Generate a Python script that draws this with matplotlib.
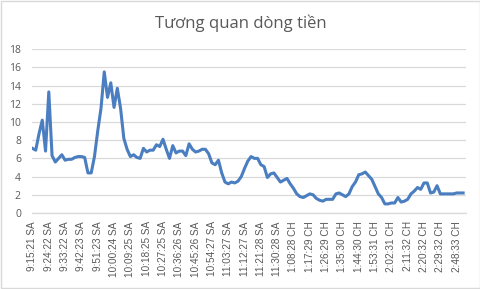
import numpy as np
import matplotlib.pyplot as plt
from matplotlib.patches import Rectangle

# tick labels every 5 samples
time_labels = ['9:15:21 SA', '9:24:22 SA', '9:33:22 SA', '9:42:23 SA', '9:51:23 SA',
               '10:00:24 SA', '10:09:25 SA', '10:18:25 SA', '10:27:25 SA', '10:36:26 SA',
               '10:45:26 SA', '10:54:27 SA', '11:03:27 SA', '11:12:27 SA', '11:21:28 SA',
               '11:30:28 SA', '1:08:28 CH', '1:17:29 CH', '1:26:29 CH', '1:35:30 CH',
               '1:44:30 CH', '1:53:31 CH', '2:02:31 CH', '2:11:32 CH', '2:20:32 CH',
               '2:29:32 CH', '2:48:33 CH']
label_step = 5

cash_flow = [7.1, 6.9, 8.7, 10.2, 6.8, 13.3, 6.3, 5.6, 6.0, 6.4,
             5.8, 5.9, 5.9, 6.1, 6.2, 6.2, 6.1, 4.4, 4.4, 6.2,
             9.0, 11.5, 15.5, 12.7, 14.3, 11.6, 13.7, 11.5, 8.2, 7.0,
             6.2, 6.4, 6.1, 6.0, 7.1, 6.7, 6.9, 6.9, 7.5, 7.3,
             8.1, 7.0, 6.0, 7.4, 6.6, 6.8, 6.8, 6.3, 7.6, 7.0,
             6.7, 6.8, 7.0, 7.0, 6.5, 5.5, 5.3, 5.8, 4.4, 3.4,
             3.2, 3.4, 3.3, 3.5, 4.0, 4.9, 5.7, 6.2, 6.0, 6.0,
             5.3, 5.1, 3.9, 4.3, 4.4, 3.9, 3.4, 3.6, 3.8, 3.2,
             2.7, 2.1, 1.8, 1.7, 1.9, 2.1, 2.0, 1.6, 1.4, 1.3,
             1.5, 1.5, 1.5, 2.1, 2.2, 2.0, 1.8, 2.1, 2.9, 3.4,
             4.2, 4.3, 4.5, 4.1, 3.7, 2.9, 2.1, 1.7, 1.0, 1.0,
             1.1, 1.1, 1.7, 1.2, 1.3, 1.5, 2.1, 2.4, 2.8, 2.6,
             3.3, 3.3, 2.2, 2.3, 3.0, 2.1, 2.1, 2.1, 2.1, 2.1,
             2.2, 2.2, 2.2]

grey = '#595959'
plt.rcParams['font.family'] = ['Open Sans', 'DejaVu Sans']

fig = plt.figure(figsize=(4.81, 2.89), dpi=100)
fig.patches.append(Rectangle((0.002, 0.003), 0.996, 0.994, transform=fig.transFigure,
                             fill=False, edgecolor='#D9D9D9', linewidth=1))
ax = fig.add_axes([0.0665, 0.263, 0.9025, 0.567])

x = np.arange(len(cash_flow))
ax.plot(x, cash_flow, color='#4A7EC0', linewidth=2.2, solid_joinstyle='round')

ax.set_xlim(-0.15, 132.9)
ax.set_ylim(0, 18)
ax.set_yticks(range(0, 19, 2))
ax.set_xticks(x[::label_step])
ax.set_xticklabels(time_labels, rotation=90, fontsize=7.2, color=grey,
                   family=['Liberation Sans', 'DejaVu Sans'])
ax.tick_params(axis='y', labelsize=7.5, labelcolor=grey, length=0, pad=8)
ax.tick_params(axis='x', length=0, pad=6)
ax.grid(axis='y', color='#D9D9D9', linewidth=0.9)
ax.set_axisbelow(True)
for s in ['top', 'right', 'left']:
    ax.spines[s].set_visible(False)
ax.spines['bottom'].set_color('#D9D9D9')
ax.spines['bottom'].set_linewidth(0.9)

fig.text(0.5, 0.92, 'Tương quan dòng tiền', ha='center', va='center',
         fontsize=12, color=grey)

fig.savefig('out.png', dpi=100)
